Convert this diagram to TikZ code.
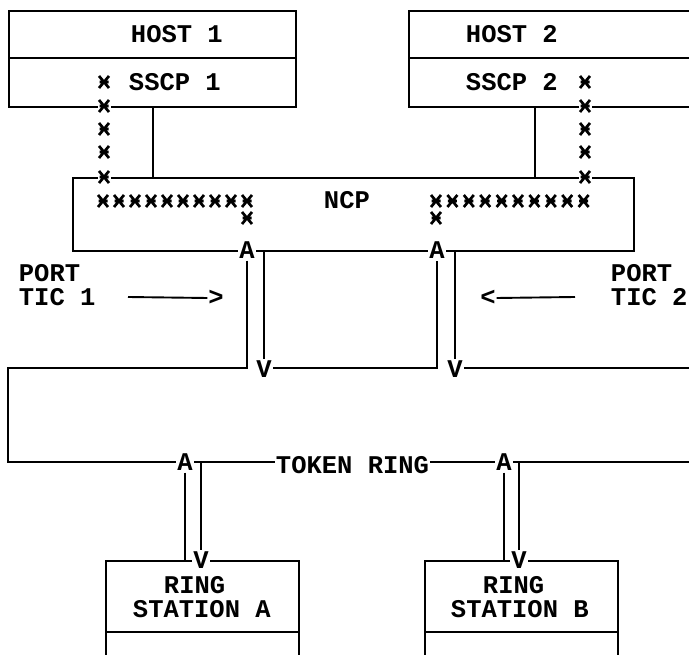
\documentclass[tikz,border=0pt]{standalone}
\usepackage{fontspec}
\setmonofont{Liberation Mono}
\usetikzlibrary{backgrounds}
\begin{document}
\begin{tikzpicture}[x=1pt,y=-1pt,line width=1.9pt,
  txt/.style={font=\ttfamily\bfseries\fontsize{25.5}{28}\selectfont,inner sep=0pt,anchor=base west},
  jn/.style={font=\ttfamily\bfseries\fontsize{25.5}{28}\selectfont,fill=white,inner sep=1.2pt},
  box/.style={draw,inner sep=0pt,anchor=north west},
  starmark/.pic={\fill[white] (-6.5,-7) rectangle (6.5,7);
    \draw[line width=2.7pt] (-5,-6)--(5,6) (-5,6)--(5,-6) (-4.5,0)--(4.5,0);}]
\useasboundingbox (0,0) rectangle (689,655);
\clip (0,0) rectangle (689,655);
% boxes
\node[box,minimum width=287pt,minimum height=96pt] (host1) at (8,10) {};
\node[box,minimum width=320pt,minimum height=96pt] (host2) at (408,10) {};
\node[box,minimum width=561pt,minimum height=73pt] (ncp) at (72,177) {};
\node[box,minimum width=193pt,minimum height=140pt] (stA) at (105,560) {};
\node[box,minimum width=193pt,minimum height=140pt] (stB) at (424,560) {};
\draw (host1.west |- 0,58) -- (host1.east |- 0,58);
\draw (host2.west |- 0,58) -- (host2.east |- 0,58);
\draw (stA.west |- 0,632) -- (stA.east |- 0,632);
\draw (stB.west |- 0,632) -- (stB.east |- 0,632);
% texts
\node[txt] (h1t) at (130,43) {HOST 1};
\node[txt] (s1t) at (128,91) {SSCP 1};
\node[txt] (h2t) at (465,43) {HOST 2};
\node[txt] (s2t) at (465,91) {SSCP 2};
\node[txt] (ncpt) at (323,209) {NCP};
\node[txt] (p1) at (18,282) {PORT};
\node[txt] (t1) at (18,306) {TIC 1};
\node[txt] (p2) at (610,282) {PORT};
\node[txt] (t2) at (610,306) {TIC 2};
\node[txt] (tr) at (275,473) {TOKEN RING};
\node[txt] (rA) at (163,593) {RING};
\node[txt] (sA) at (132,617) {STATION A};
\node[txt] (rB) at (482,593) {RING};
\node[txt] (sB) at (450,617) {STATION B};
\node[jn,inner sep=0pt] (gt) at (216,298) {>};
\node[jn,inner sep=0pt] (lt) at (488,298) {<};
% junction letters
\node[jn] (A1) at (247,250) {A};
\node[jn] (A2) at (437,250) {A};
\node[jn] (V1) at (264,369) {V};
\node[jn] (V2) at (455,369) {V};
\node[jn] (A3) at (185,462) {A};
\node[jn] (A4) at (504,462) {A};
\node[jn] (V3) at (201,560) {V};
\node[jn] (V4) at (519,560) {V};
% stars
\foreach \y in {82,106,129,152,177} {\pic at (104,\y) {starmark}; \pic at (585,\y) {starmark};}
\foreach \i in {0,...,9} {\pic at (103+16*\i,201) {starmark}; \pic at (436+16.4*\i,201) {starmark};}
\pic at (247,218) {starmark};
\pic at (436,218) {starmark};
\begin{pgfonlayer}{background}
\begin{scope}[line width=1.9pt]
\draw (host1.south -| 153,0) -- (ncp.north -| 153,0);
\draw (host2.south -| 535,0) -- (ncp.north -| 535,0);
\draw (A1.south) -- (A1 |- 0,368) -- (8,368) -- (8,462) -- (A3.center);
\draw (V1.center |- 0,368) -| (A2.south);
\draw (V2.center |- 0,368) -- (720,368);
\draw (V1 |- ncp.south) -- (V1.center);
\draw (V2 |- ncp.south) -- (V2.center);
\draw (A3.center) -- (tr.west |- A3);
\draw (tr.east |- A4) -- (A4.center) -- (720,462);
\draw (A3.south) -- (A3 |- stA.north);
\draw (V3 |- A3) -- (V3.center);
\draw (A4.south) -- (A4 |- stB.north);
\draw (V4 |- A4) -- (V4.center);
\draw (128,297) -- (gt.west);
\draw (lt.east) -- (575,297);
\end{scope}
\end{pgfonlayer}
\end{tikzpicture}
\end{document}
